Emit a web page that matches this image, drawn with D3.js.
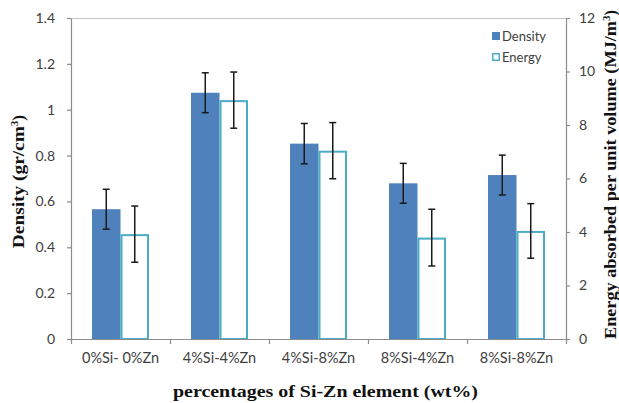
<!DOCTYPE html>
<html>
<head>
<meta charset="utf-8">
<script src="https://cdn.jsdelivr.net/npm/d3@7"></script>
<style>
  html, body { margin: 0; padding: 0; background: #fff; }
  svg { display: block; }
</style>
</head>
<body>
<svg id="chart" width="619" height="403"></svg>
<script>
// Alloy compositions along the x axis
const categories = ["0%Si- 0%Zn", "4%Si-4%Zn", "4%Si-8%Zn", "8%Si-4%Zn", "8%Si-8%Zn"];
// Density (gr/cm3), left axis
const density = [0.566, 1.074, 0.852, 0.679, 0.715];
const densityErr = [0.087, 0.087, 0.088, 0.087, 0.087];
// Energy absorbed per unit volume (MJ/m3), right axis
const energy = [3.92, 8.93, 7.04, 3.79, 4.04];
const energyErr = [1.05, 1.05, 1.05, 1.06, 1.02];
// Axis ticks
const densityTicks = [0, 0.2, 0.4, 0.6, 0.8, 1, 1.2, 1.4];
const energyTicks = [0, 2, 4, 6, 8, 10, 12];
const seriesNames = ["Density", "Energy"];

const W = 619, H = 403;
const margin = { left: 71, right: 53, top: 18, bottom: 64 };
const x0 = margin.left, x1 = W - margin.right;
const yTop = margin.top, yBot = H - margin.bottom;

const svg = d3.select("#chart");

const x = d3.scaleBand().domain(categories).range([x0, x1]).padding(0);
const half = 28.5;
const xs = d3.scaleBand().domain(seriesNames)
  .range([x.bandwidth() / 2 - half, x.bandwidth() / 2 + half]).padding(0);
const yL = d3.scaleLinear().domain([0, 1.4]).range([yBot, yTop]);
const yR = d3.scaleLinear().domain([0, 12]).range([yBot, yTop]);

const axisColor = "#8c8c8c";
const tickFont = "Lato, 'Liberation Sans', sans-serif";
const tickColor = "#404040";

// plot frame top edge
svg.append("line")
  .attr("x1", x0).attr("x2", x1).attr("y1", yTop + 0.5).attr("y2", yTop + 0.5)
  .attr("stroke", "#c4c4c4").attr("stroke-width", 1.2);

// bars
const colDensity = "#4f81bd", colEnergy = "#4bacc6";
const g = svg.append("g");
categories.forEach((c, i) => {
  const bx = x(c);
  g.append("rect")
    .attr("x", bx + xs("Density")).attr("width", xs.bandwidth())
    .attr("y", yL(density[i])).attr("height", yBot - yL(density[i]))
    .attr("fill", colDensity);
  g.append("rect")
    .attr("x", bx + xs("Energy") + 1).attr("width", xs.bandwidth() - 2)
    .attr("y", yR(energy[i]) + 1).attr("height", yBot - yR(energy[i]) - 1)
    .attr("fill", "#fff").attr("stroke", colEnergy).attr("stroke-width", 2);
});

// error bars
function errBar(cx, yHi, yLo) {
  const e = svg.append("g").attr("stroke", "#1a1a1a").attr("stroke-width", 1.5);
  e.append("line").attr("x1", cx).attr("x2", cx).attr("y1", yHi).attr("y2", yLo);
  e.append("line").attr("x1", cx - 3.5).attr("x2", cx + 3.5).attr("y1", yHi).attr("y2", yHi);
  e.append("line").attr("x1", cx - 3.5).attr("x2", cx + 3.5).attr("y1", yLo).attr("y2", yLo);
}
categories.forEach((c, i) => {
  const cd = x(c) + xs("Density") + xs.bandwidth() / 2;
  errBar(cd, yL(density[i] + densityErr[i]), yL(density[i] - densityErr[i]));
  const ce = x(c) + xs("Energy") + xs.bandwidth() / 2;
  errBar(ce, yR(energy[i] + energyErr[i]), yR(energy[i] - energyErr[i]));
});

// axes
function styleAxis(sel) {
  sel.selectAll("path").attr("stroke", axisColor).attr("stroke-width", 1.2);
  sel.selectAll("line").attr("stroke", axisColor).attr("stroke-width", 1.2);
  sel.selectAll("text").attr("fill", tickColor)
    .style("font-family", tickFont).style("font-size", "14px");
}

const axL = svg.append("g").attr("transform", `translate(${x0},0)`)
  .call(d3.axisLeft(yL).tickValues(densityTicks).tickSize(4).tickPadding(12)
    .tickSizeOuter(0).tickFormat(d3.format("~g")));
styleAxis(axL);

const axR = svg.append("g").attr("transform", `translate(${x1},0)`)
  .call(d3.axisRight(yR).tickValues(energyTicks).tickSize(4).tickPadding(9)
    .tickSizeOuter(0).tickFormat(d3.format("~g")));
styleAxis(axR);

// category axis: ticks between categories
const xb = d3.scaleLinear().domain([0, categories.length]).range([x0, x1]);
const axB = svg.append("g").attr("transform", `translate(0,${yBot})`)
  .call(d3.axisBottom(xb).tickValues(d3.range(categories.length + 1)).tickSize(5)
    .tickSizeOuter(0).tickFormat(""));
styleAxis(axB);
svg.append("g").selectAll("text").data(categories).join("text")
  .attr("x", d => x(d) + x.bandwidth() / 2).attr("y", yBot + 24)
  .attr("text-anchor", "middle")
  .attr("fill", tickColor)
  .style("font-family", tickFont).style("font-size", "14.5px")
  .text(d => d);

// axis titles
const titleFont = "'Liberation Serif', 'Times New Roman', serif";
svg.append("text")
  .attr("x", 325.5).attr("y", 397)
  .attr("text-anchor", "middle")
  .attr("textLength", 305).attr("lengthAdjust", "spacingAndGlyphs")
  .style("font-family", titleFont).style("font-weight", "bold").style("font-size", "17.5px")
  .attr("fill", "#111")
  .text("percentages of Si-Zn element (wt%)");

const lt = svg.append("text")
  .attr("transform", `translate(24,115) rotate(-90)`)
  .attr("text-anchor", "end")
  .style("font-family", titleFont).style("font-weight", "bold").style("font-size", "17px")
  .attr("fill", "#111");
lt.append("tspan").attr("textLength", 122).attr("lengthAdjust", "spacingAndGlyphs").text("Density (gr/cm");
lt.append("tspan").attr("dy", -6).style("font-size", "11px").text("3");
lt.append("tspan").attr("dy", 6).text(")");

const rt = svg.append("text")
  .attr("transform", `translate(615.5,10) rotate(-90)`)
  .attr("text-anchor", "end")
  .style("font-family", titleFont).style("font-weight", "bold").style("font-size", "16.5px")
  .attr("fill", "#111");
rt.append("tspan").attr("textLength", 318).attr("lengthAdjust", "spacingAndGlyphs")
  .text("Energy absorbed per unit volume (MJ/m");
rt.append("tspan").attr("dy", -6).style("font-size", "11px").text("3");
rt.append("tspan").attr("dy", 6).text(")");

// legend
const lg = svg.append("g").attr("transform", "translate(492,32)");
lg.append("rect").attr("x", 0).attr("y", 0).attr("width", 8).attr("height", 8).attr("fill", colDensity);
lg.append("text").attr("x", 10).attr("y", 9).text(seriesNames[0])
  .attr("fill", tickColor).style("font-family", tickFont).style("font-size", "13px");
lg.append("rect").attr("x", 0.75).attr("y", 21.75).attr("width", 6.5).attr("height", 6.5)
  .attr("fill", "#fff").attr("stroke", colEnergy).attr("stroke-width", 1.5);
lg.append("text").attr("x", 10).attr("y", 30).text(seriesNames[1])
  .attr("fill", tickColor).style("font-family", tickFont).style("font-size", "13px");
</script>
</body>
</html>
